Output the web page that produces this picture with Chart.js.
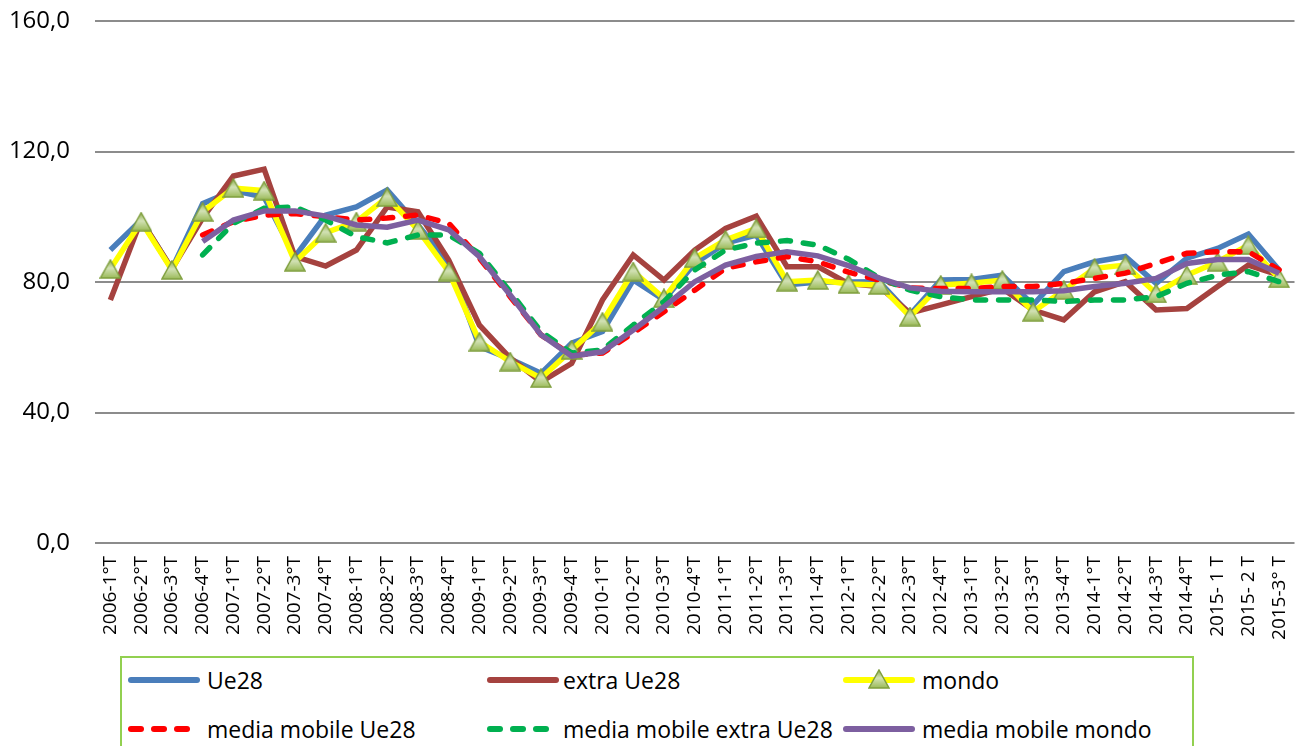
<!DOCTYPE html>
<html>
<head>
<meta charset="utf-8">
<script src="https://cdn.jsdelivr.net/npm/chart.js@4.4.0/dist/chart.umd.min.js"></script>
<style>
body { margin:0; background:#fff; font-family:"Open Sans", sans-serif; }
#wrap { position:relative; width:1295px; height:746px; overflow:hidden; }
#legend { position:absolute; left:120px; top:656px; width:1074px; height:110px; border:2px solid #92d050; box-sizing:border-box; }
.item { position:absolute; height:30px; display:flex; align-items:center; font-size:23px; color:#000; white-space:nowrap; }
.sample { position:absolute; height:30px; display:flex; align-items:center; }
.solid { width:72px; height:6px; border-radius:3px; }
.dash { width:16px; height:6px; border-radius:3px; margin-right:7px; }
</style>
</head>
<body>
<div id="wrap">
  <canvas id="myChart" width="1310" height="650"></canvas>
  <div id="legend"></div>
</div>
<script>
var labels=['2006-1°T','2006-2°T','2006-3°T','2006-4°T','2007-1°T','2007-2°T','2007-3°T','2007-4°T',
'2008-1°T','2008-2°T','2008-3°T','2008-4°T','2009-1°T','2009-2°T','2009-3°T','2009-4°T',
'2010-1°T','2010-2°T','2010-3°T','2010-4°T','2011-1°T','2011-2°T','2011-3°T','2011-4°T',
'2012-1°T','2012-2°T','2012-3°T','2012-4°T','2013-1°T','2013-2°T','2013-3°T','2013-4°T',
'2014-1°T','2014-2°T','2014-3°T','2014-4°T','2015- 1 T','2015- 2 T','2015-3° T'];

var ue28=[89.8,99,84,104,108,106,87.8,100.5,103,108.2,97.5,85.8,60.2,56.4,52,61.3,64.8,80.6,74.5,85.7,
91.9,94.4,79.1,80,80,80.1,70,80.6,80.8,82.1,73,83.2,86.2,87.8,79.6,87.3,90.3,94.7,83.7];
var extraUe28=[74.5,99,84,99.6,112.5,114.6,87.8,84.9,89.8,103,101.5,86.7,66.8,56.7,49.4,55.1,74.5,88.3,80.6,89.8,
96.4,100.2,84.7,84.7,79.5,78.6,70.5,73,75.5,78,71.4,68.4,77,80.1,71.4,71.9,78.6,85.2,82.1];
var mondo=[84,98.5,83.7,101.5,108.8,108,86.2,95.1,98.5,106,96,83.2,61.7,55.6,50.5,59.2,67.8,83.2,75,87.3,
92.9,96.4,80.1,80.6,79.4,79.1,69.4,79.1,79.6,80.6,70.9,77.5,84.2,85.2,76.5,82.1,86.2,91.3,81.1];
var mmUe28=[null,null,null,94.4,98.5,100.5,101,100,99,99.6,100.5,98,87.3,75.5,63.8,57.6,58.2,64.4,70.9,77.5,
84.2,86.2,87.8,86.2,83,80.6,78.2,78,78,78.6,78.6,79.6,81.1,82.7,85.7,88.8,89.3,89.3,83.7];
var mmExtra=[null,null,null,88.3,98,102.6,103,99,93.9,92,94.4,94.4,88.8,77,64.8,58.2,59.2,66.8,74,83.7,
89.8,91.9,92.7,91.3,87,81.2,77.5,75.5,74.5,74.5,74.5,74,74.5,74.5,75.5,79.6,82.1,83.2,80.1];
var mmMondo=[null,null,null,92.4,99,101.8,101.8,100.2,97.5,96.8,99,96,87.8,76,63.8,57.3,58.6,65.3,72.4,80.1,
85.2,87.8,89.3,88,85,81.2,78.2,77.2,77,77,77,77.3,78.6,79.6,81.1,85.7,86.9,86.9,82.7];
var yTicks=[0,40,80,120,160];

//triangle marker like the excel one
function triangle() {
    var c=document.createElement('canvas');
    c.width=22; c.height=20;
    var t=c.getContext('2d');
    var g=t.createLinearGradient(0,1,0,19);
    g.addColorStop(0,'#8fae4f');
    g.addColorStop(0.45,'#d3e2b6');
    g.addColorStop(1,'#9bbb59');
    t.beginPath();
    t.moveTo(11,1); t.lineTo(21,19); t.lineTo(1,19); t.closePath();
    t.fillStyle=g; t.fill();
    t.lineWidth=1.5; t.strokeStyle='#7f9f3e'; t.stroke();
    return c;
}
var tri=triangle();

function line(label,data,color,order,dash) {
    return {
        label:label, data:data, borderColor:color, backgroundColor:color,
        borderWidth:5.5, pointRadius:0, tension:0, order:order, fill:false,
        borderDash:dash||[], borderCapStyle:dash?'round':'butt', spanGaps:false
    };
}
var mondoSet=line('mondo',mondo,'#ffff00',4);
mondoSet.pointStyle=tri;
mondoSet.pointRadius=10;

var ctx=document.querySelector('#myChart').getContext('2d');
var myChart=new Chart(ctx,{
    type:'line',
    data:{
        labels:labels,
        datasets:[
            line('Ue28',ue28,'#4a7ebb',6),
            line('extra Ue28',extraUe28,'#a5423f',5),
            mondoSet,
            line('media mobile Ue28',mmUe28,'#ff0000',3,[10,13]),
            line('media mobile extra Ue28',mmExtra,'#00b050',2,[10,13]),
            line('media mobile mondo',mmMondo,'#7d5fa0',1)
        ]
    },
    options:{
        responsive:false,
        devicePixelRatio:1,
        animation:false,
        layout:{padding:{top:21,right:0,bottom:0,left:0}},
        plugins:{legend:{display:false},tooltip:{enabled:false}},
        scales:{
            x:{
                offset:true,
                grid:{display:false,drawTicks:false,offset:true},
                border:{display:false},
                ticks:{autoSkip:false,maxRotation:90,minRotation:90,padding:13,color:'#000',
                    font:{family:'Open Sans',size:19}},
                afterFit:function(s){ s.height=650-543; s.paddingLeft=0; s.paddingRight=0; }
            },
            y:{
                min:0,max:160,
                afterBuildTicks:function(s){ s.ticks=yTicks.map(function(v){return {value:v};}); },
                grid:{color:'#8c8c8c',lineWidth:2,drawTicks:false},
                border:{display:false},
                ticks:{padding:25,color:'#000',font:{family:'Open Sans',size:24},
                    callback:function(v){ return v.toFixed(1).replace('.',','); }},
                afterFit:function(s){ s.width=95; s.paddingTop=0; s.paddingBottom=0; }
            }
        }
    }
});

//legend drawn in html
var items=[
    ['Ue28','#4a7ebb',false,0,0],
    ['extra Ue28','#a5423f',false,1,0],
    ['mondo','#ffff00',false,2,0],
    ['media mobile Ue28','#ff0000',true,0,1],
    ['media mobile extra Ue28','#00b050',true,1,1],
    ['media mobile mondo','#7d5fa0',false,2,1]
];
var lineX=[128,487,843], textX=[207,563,922], rowY=[680,729];
var legend=document.querySelector('#legend');
items.forEach(function(it,i) {
    var s=document.createElement('div');
    s.className='sample';
    s.style.left=(lineX[it[3]]-122)+'px';
    s.style.top=(rowY[it[4]]-15-658)+'px';
    if(it[2]) {
        for(var k=0;k<3;k++) {
            var d=document.createElement('div');
            d.className='dash'; d.style.background=it[1];
            s.appendChild(d);
        }
    } else {
        var d=document.createElement('div');
        d.className='solid'; d.style.background=it[1];
        s.appendChild(d);
        if(i==2) {
            var m=triangle();
            m.style.position='absolute'; m.style.left='25px'; m.style.top='4px';
            s.appendChild(m);
        }
    }
    legend.appendChild(s);
    var t=document.createElement('div');
    t.className='item';
    t.textContent=it[0];
    t.style.left=(textX[it[3]]-122)+'px';
    t.style.top=(rowY[it[4]]-15-658)+'px';
    legend.appendChild(t);
});
</script>
</body>
</html>
